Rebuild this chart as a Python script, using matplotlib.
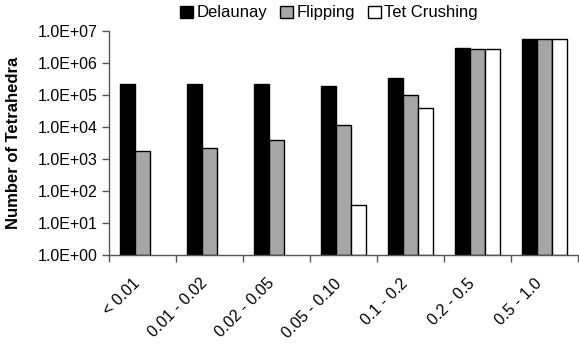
import numpy as np
import matplotlib
matplotlib.use("Agg")
import matplotlib.pyplot as plt
from matplotlib.ticker import FuncFormatter, FixedLocator
from matplotlib.transforms import ScaledTranslation

plt.rcParams['font.family'] = ['Liberation Sans', 'DejaVu Sans']

categories = ["< 0.01", "0.01 - 0.02", "0.02 - 0.05", "0.05 - 0.10",
              "0.1 - 0.2", "0.2 - 0.5", "0.5 - 1.0"]
delaunay = [2.3e5, 2.25e5, 2.3e5, 1.9e5, 3.5e5, 2.96e6, 5.8e6]
flipping = [1.8e3, 2.3e3, 4.0e3, 1.2e4, 1.05e5, 2.77e6, 5.9e6]
tet_crushing = [0, 0, 0, 37, 4.0e4, 2.77e6, 5.7e6]

series = [("Delaunay", delaunay, "black"),
          ("Flipping", flipping, "#a6a6a6"),
          ("Tet Crushing", tet_crushing, "white")]

fig = plt.figure(figsize=(5.79, 3.46), dpi=100)
ax = fig.add_axes([0.188, 0.263, 0.81, 0.6465])

x = np.arange(len(categories))
w = 1 / 4.5
for i, (name, vals, col) in enumerate(series):
    v = np.array(vals, dtype=float)
    v[v <= 0] = np.nan
    ax.bar(x + (i - 1) * w, v, w, bottom=1, color=col, edgecolor="black",
           linewidth=1.0, label=name)

ax.set_yscale("log")
ax.set_ylim(1, 1e7)
ax.set_xlim(-0.5, len(categories) - 0.5)
ax.yaxis.set_major_locator(FixedLocator([10.0 ** k for k in range(8)]))
ax.yaxis.set_minor_locator(FixedLocator([]))
ax.yaxis.set_major_formatter(FuncFormatter(
    lambda v, p: "1.0E+%02d" % int(round(np.log10(v)))))
ax.tick_params(axis="y", labelsize=11.5, length=5, width=1, direction="out", pad=3)

ax.set_xticks(x)
ax.set_xticklabels(categories, rotation=45, ha="right", rotation_mode="anchor",
                   fontsize=11.5)
ax.tick_params(axis="x", length=0, pad=15)
off = ScaledTranslation(-10 / 100, 0, fig.dpi_scale_trans)
for lab in ax.get_xticklabels():
    lab.set_transform(lab.get_transform() + off)
ax.set_xticks(np.arange(-0.5, len(categories)), minor=True)
ax.tick_params(axis="x", which="minor", length=5, width=1)

for s in ["top", "right"]:
    ax.spines[s].set_visible(False)
for s in ["left", "bottom"]:
    ax.spines[s].set_color("#555555")
    ax.spines[s].set_linewidth(1)
ax.tick_params(which="both", color="#555555")

ax.set_ylabel("Number of Tetrahedra", fontsize=12, fontweight="bold")
ax.yaxis.set_label_coords((21 - 109) / 469, 0.5)

fig.legend(loc="center", bbox_to_anchor=(329 / 579, 1 - 13 / 346), ncol=3,
           frameon=False, fontsize=12, handlelength=0.75, handleheight=0.75,
           handletextpad=0.2, columnspacing=0.8)

fig.savefig("out.png", dpi=100)
